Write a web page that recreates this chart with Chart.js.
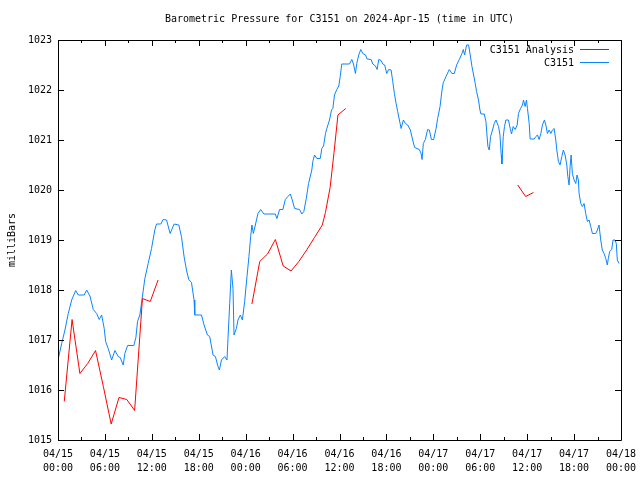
<!DOCTYPE html>
<html>
<head>
<meta charset="utf-8">
<script src="https://cdn.jsdelivr.net/npm/chart.js@4.4.1/dist/chart.umd.min.js"></script>
<style>
  html, body { margin: 0; padding: 0; background: #fff; }
  canvas { display: block; }
</style>
</head>
<body>
<canvas id="chart" width="640" height="480"></canvas>
<script>
// hours since 2024-04-15 00:00 UTC
const stationHours = [
    0.04, 0.47, 0.89, 1.31, 1.75, 2.26, 2.59, 3.36, 3.66, 4.09, 4.51, 4.94, 5.27, 5.58, 5.91,
    6.09, 6.42, 6.86, 7.28, 7.70, 7.95, 8.34, 8.55, 8.90, 9.70, 9.96, 10.17, 10.47, 10.76, 11.11,
    11.53, 11.96, 12.38, 12.60, 13.15, 13.44, 13.88, 14.34, 14.85, 15.45, 15.79, 16.12, 16.43,
    16.72, 17.07, 17.40, 17.49, 18.35, 18.68, 19.11, 19.40, 19.83, 20.13, 20.46, 20.64, 20.90,
    21.32, 21.61, 21.74, 21.96, 22.17, 22.38, 22.51, 22.81, 23.02, 23.32, 23.58, 23.87, 24.17,
    24.42, 24.64, 24.80, 24.98, 25.24, 25.57, 25.92, 26.34, 27.79, 28.00, 28.34, 28.76, 29.07,
    29.40, 29.71, 29.96, 30.26, 30.89, 31.19, 31.44, 31.75, 32.04, 32.46, 32.59, 32.81, 33.10,
    33.54, 33.74, 33.96, 34.21, 34.38, 34.72, 34.98, 35.15, 35.36, 35.66, 35.91, 36.09, 36.29,
    37.28, 37.57, 37.79, 38.04, 38.21, 38.46, 38.72, 38.98, 39.32, 39.54, 40.05, 40.25, 40.60,
    40.81, 41.02, 41.32, 41.53, 41.78, 42.04, 42.29, 42.60, 42.81, 43.02, 43.24, 43.44, 43.66,
    43.88, 44.17, 44.43, 44.72, 45.06, 45.36, 45.61, 46.21, 46.43, 46.56, 46.72, 46.98, 47.27,
    47.49, 47.75, 48.04, 48.35, 48.55, 48.86, 49.11, 49.28, 49.62, 50.04, 50.39, 50.68, 50.98,
    51.32, 51.66, 51.83, 52.00, 52.25, 52.51, 52.72, 52.94, 53.15, 53.36, 53.53, 53.78, 53.96,
    54.09, 54.51, 54.73, 54.86, 54.98, 55.15, 55.32, 55.57, 55.79, 56.01, 56.34, 56.52, 56.68,
    56.77, 56.94, 57.10, 57.28, 57.61, 57.83, 58.00, 58.21, 58.47, 58.72, 58.89, 59.15, 59.40,
    59.53, 59.74, 59.91, 60.04, 60.26, 60.38, 60.89, 61.11, 61.32, 61.53, 61.75, 61.95, 62.21,
    62.39, 62.59, 62.81, 63.03, 63.23, 63.45, 63.66, 63.79, 64.00, 64.21, 64.43, 64.63, 64.85,
    65.07, 65.20, 65.36, 65.49, 65.62, 65.78, 66.00, 66.22, 66.38, 66.55, 66.64, 66.86, 67.06,
    67.28, 67.49, 67.70, 67.92, 68.13, 68.34, 68.77, 68.98, 69.19, 69.41, 69.61, 69.83, 70.05,
    70.25, 70.38, 70.56, 70.81, 70.98, 71.23, 71.40, 71.53, 71.75
];
const stationPressure = [
    1016.63, 1016.93, 1017.20, 1017.53, 1017.80, 1017.99, 1017.90, 1017.90, 1018.00, 1017.88, 1017.61, 1017.53, 1017.41, 1017.50, 1017.23,
    1016.97, 1016.83, 1016.60, 1016.79, 1016.67, 1016.65, 1016.50, 1016.73, 1016.89, 1016.89, 1017.05, 1017.37, 1017.50, 1017.83, 1018.23,
    1018.53, 1018.83, 1019.20, 1019.32, 1019.32, 1019.41, 1019.40, 1019.13, 1019.32, 1019.30, 1019.07, 1018.67, 1018.40,
    1018.21, 1018.15, 1017.80, 1017.50, 1017.50, 1017.30, 1017.10, 1017.07, 1016.70, 1016.67, 1016.47, 1016.40, 1016.60,
    1016.67, 1016.60, 1017.03, 1017.73, 1018.40, 1018.03, 1017.10, 1017.23, 1017.40, 1017.50, 1017.40, 1017.77, 1018.27,
    1018.67, 1019.07, 1019.30, 1019.13, 1019.30, 1019.53, 1019.61, 1019.52, 1019.52, 1019.43, 1019.61, 1019.61, 1019.81,
    1019.87, 1019.92, 1019.80, 1019.63, 1019.61, 1019.52, 1019.57, 1019.83, 1020.13, 1020.40, 1020.57, 1020.70, 1020.63,
    1020.63, 1020.83, 1020.88, 1021.13, 1021.23, 1021.40, 1021.60, 1021.63, 1021.90, 1022.01, 1022.08, 1022.27, 1022.52,
    1022.52, 1022.61, 1022.52, 1022.33, 1022.53, 1022.70, 1022.81, 1022.73, 1022.70, 1022.62, 1022.61, 1022.52, 1022.48,
    1022.41, 1022.61, 1022.59, 1022.52, 1022.50, 1022.33, 1022.41, 1022.40, 1022.17, 1021.93, 1021.73, 1021.57, 1021.40,
    1021.23, 1021.40, 1021.33, 1021.30, 1021.20, 1021.00, 1020.85, 1020.81, 1020.73, 1020.61, 1020.93, 1021.01, 1021.21,
    1021.20, 1021.01, 1021.01, 1021.23, 1021.43, 1021.67, 1022.00, 1022.15, 1022.27, 1022.41, 1022.33, 1022.33, 1022.50,
    1022.61, 1022.73, 1022.81, 1022.70, 1022.90, 1022.90, 1022.70, 1022.47, 1022.30, 1022.13, 1021.97, 1021.80, 1021.60,
    1021.52, 1021.52, 1021.37, 1021.10, 1020.87, 1020.80, 1021.07, 1021.20, 1021.33, 1021.40, 1021.27, 1021.10, 1020.70,
    1020.52, 1021.07, 1021.27, 1021.40, 1021.40, 1021.23, 1021.12, 1021.27, 1021.21, 1021.30, 1021.53, 1021.63, 1021.70,
    1021.80, 1021.67, 1021.80, 1021.63, 1021.33, 1021.02, 1021.02, 1021.07, 1021.10, 1021.01, 1021.13, 1021.30, 1021.40,
    1021.30, 1021.13, 1021.20, 1021.13, 1021.20, 1021.23, 1021.00, 1020.80, 1020.57, 1020.50, 1020.67, 1020.80, 1020.70,
    1020.50, 1020.27, 1020.10, 1020.47, 1020.70, 1020.33, 1020.20, 1020.13, 1020.30, 1020.20, 1019.93, 1019.73, 1019.67,
    1019.73, 1019.53, 1019.37, 1019.40, 1019.27, 1019.13, 1019.13, 1019.20, 1019.30, 1019.00, 1018.80, 1018.73, 1018.63,
    1018.50, 1018.63, 1018.77, 1018.81, 1019.00, 1019.00, 1018.93, 1018.60, 1018.53
];

// analysis series, null marks a gap
const analysisHours = [
    0.8, 1.8, 2.8, 3.8, 4.8, 5.8, 6.8, 7.8, 8.8, 9.8, 10.8, 11.8, 12.8,
    18.0,
    24.8, 25.8, 26.8, 27.8, 28.8, 29.8, 30.8, 31.8, 32.8, 33.8, 34.2, 34.8, 35.3, 35.8, 36.8,
    45.0,
    58.8, 59.8, 60.8
];
const analysisPressure = [
    1015.77, 1017.41, 1016.33, 1016.53, 1016.79, 1016.07, 1015.32, 1015.85, 1015.81, 1015.59, 1017.83, 1017.77, 1018.20,
    null,
    1017.72, 1018.57, 1018.72, 1019.01, 1018.48, 1018.38, 1018.57, 1018.80, 1019.05, 1019.30, 1019.55, 1020.05, 1020.75, 1021.50, 1021.63,
    null,
    1020.10, 1019.87, 1019.95
];

const xTickLabels = [
    ["04/15", "00:00"], ["04/15", "06:00"], ["04/15", "12:00"], ["04/15", "18:00"],
    ["04/16", "00:00"], ["04/16", "06:00"], ["04/16", "12:00"], ["04/16", "18:00"],
    ["04/17", "00:00"], ["04/17", "06:00"], ["04/17", "12:00"], ["04/17", "18:00"],
    ["04/18", "00:00"]
];

const chartTitle = 'Barometric Pressure for C3151 on 2024-Apr-15 (time in UTC)';
const monoFont = "'DejaVu Sans Mono', 'Liberation Mono', monospace";

function toPoints(xs, ys) {
    return xs.map((x, i) => ({ x: x, y: ys[i] }));
}

// gnuplot style frame: title over the plot, box, inward ticks, legend top right
const gnuplotFrame = {
    id: 'gnuplotFrame',
    afterDraw(chart) {
        const ctx = chart.ctx;
        const area = chart.chartArea;
        const xs = chart.scales.x;
        const ys = chart.scales.y;
        ctx.save();
        ctx.font = '10px ' + monoFont;
        ctx.fillStyle = '#000';
        ctx.textAlign = 'center';
        ctx.textBaseline = 'middle';
        ctx.fillText(chartTitle, (area.left + area.right) / 2, 19.5);

        ctx.strokeStyle = '#000';
        ctx.lineWidth = 1;
        ctx.beginPath();
        ctx.rect(Math.round(area.left) + 0.5, Math.round(area.top) + 0.5,
            Math.round(area.right - area.left), Math.round(area.bottom - area.top));
        for (let h = 0; h <= 72; h += 3) {
            const px = Math.round(xs.getPixelForValue(h)) + 0.5;
            const len = h % 6 == 0 ? 6 : 3;
            ctx.moveTo(px, area.bottom);
            ctx.lineTo(px, area.bottom - len);
            ctx.moveTo(px, area.top);
            ctx.lineTo(px, area.top + len);
        }
        for (let v = 1015; v <= 1023; v++) {
            const py = Math.round(ys.getPixelForValue(v)) + 0.5;
            ctx.moveTo(area.left, py);
            ctx.lineTo(area.left + 6, py);
            ctx.moveTo(area.right, py);
            ctx.lineTo(area.right - 6, py);
        }
        ctx.stroke();

        ctx.textAlign = 'right';
        chart.data.datasets.forEach((ds, i) => {
            const y = area.top + 9.5 + i * 13;
            ctx.fillStyle = '#000';
            ctx.fillText(ds.label, area.right - 47, y + 0.5);
            ctx.strokeStyle = ds.borderColor;
            ctx.beginPath();
            ctx.moveTo(area.right - 41, y);
            ctx.lineTo(area.right - 12, y);
            ctx.stroke();
        });
        ctx.restore();
    }
};

new Chart(document.getElementById('chart'), {
    type: 'line',
    data: {
        datasets: [
            {
                label: 'C3151 Analysis',
                data: toPoints(analysisHours, analysisPressure),
                borderColor: '#ff0000',
                borderWidth: 1,
                pointRadius: 0,
                spanGaps: false,
                tension: 0
            },
            {
                label: 'C3151',
                data: toPoints(stationHours, stationPressure),
                borderColor: '#0a84ff',
                borderWidth: 1,
                pointRadius: 0,
                tension: 0
            }
        ]
    },
    options: {
        responsive: false,
        animation: false,
        events: [],
        layout: { padding: { left: 0, right: 19, top: 40, bottom: 0 } },
        plugins: {
            legend: { display: false },
            tooltip: { enabled: false },
            title: { display: false }
        },
        scales: {
            x: {
                type: 'linear',
                min: 0,
                max: 72,
                grid: { display: false, drawTicks: false },
                border: { display: false },
                afterFit(scale) {
                    scale.height = 40;
                    scale.paddingLeft = 0;
                    scale.paddingRight = 0;
                },
                ticks: {
                    stepSize: 6,
                    maxRotation: 0,
                    autoSkip: false,
                    padding: 7,
                    color: '#000',
                    font: { family: monoFont, size: 10, lineHeight: 1.4 },
                    callback: (v) => xTickLabels[Math.round(v / 6)]
                }
            },
            y: {
                min: 1015,
                max: 1023,
                grid: { display: false, drawTicks: false },
                border: { display: false },
                afterFit(scale) {
                    scale.width = 58;
                    scale.paddingTop = 0;
                    scale.paddingBottom = 0;
                },
                ticks: {
                    stepSize: 1,
                    padding: 6,
                    color: '#000',
                    font: { family: monoFont, size: 10 },
                    callback: (v) => String(v)
                },
                title: {
                    display: true,
                    text: 'milliBars',
                    color: '#000',
                    font: { family: monoFont, size: 10, lineHeight: 1.2 },
                    padding: { top: 6, bottom: 0 }
                }
            }
        }
    },
    plugins: [gnuplotFrame]
});
</script>
</body>
</html>
